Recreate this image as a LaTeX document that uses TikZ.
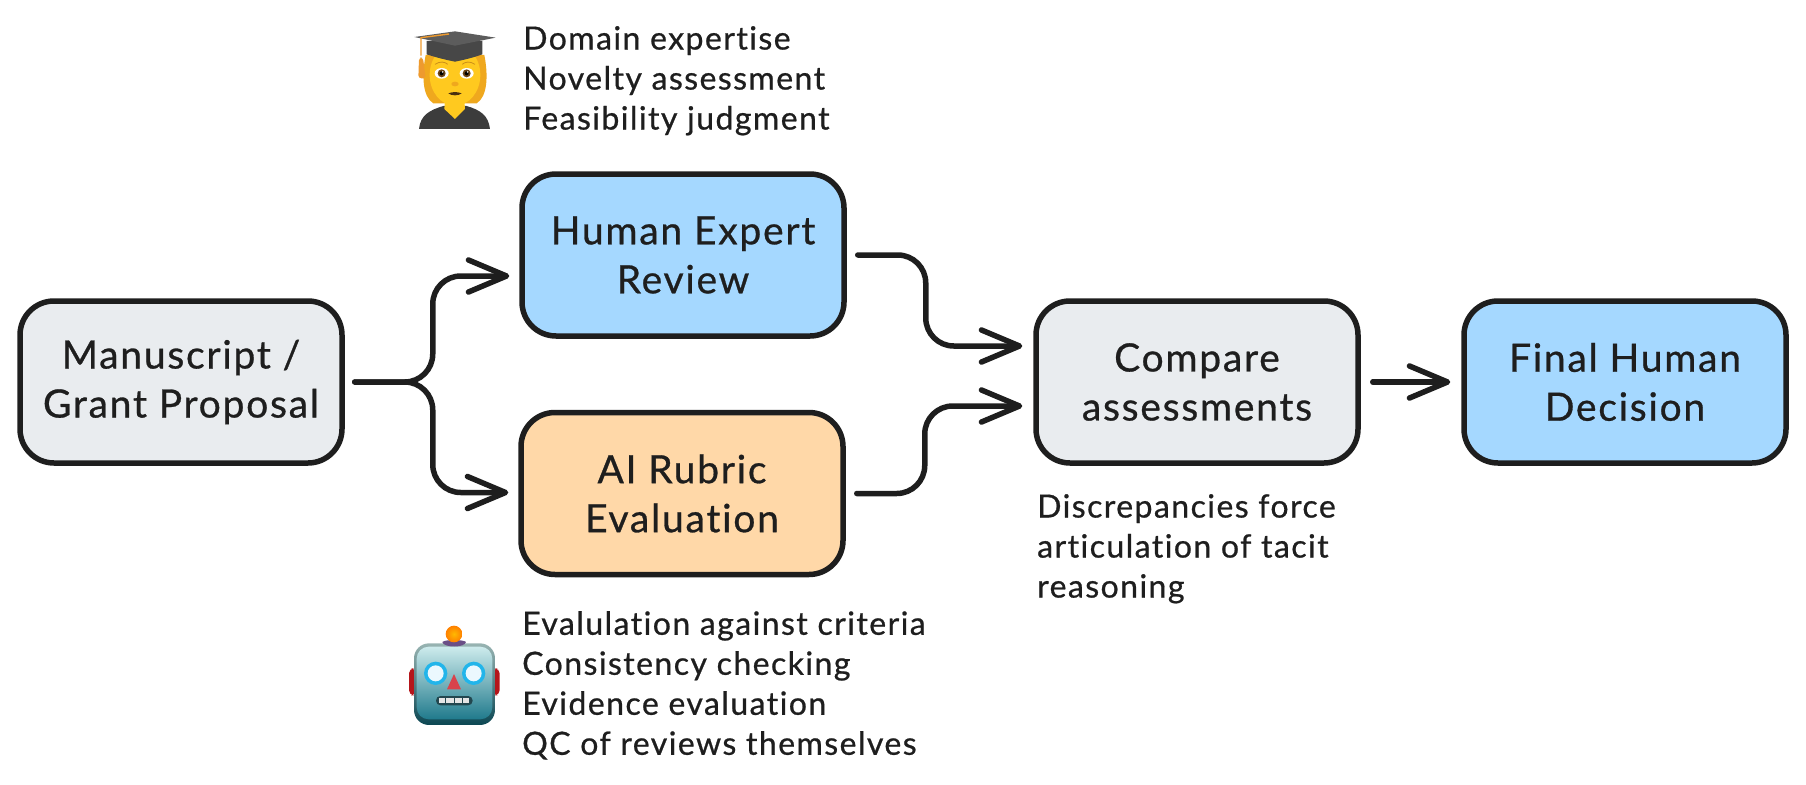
\documentclass[tikz,border=0pt]{standalone}
\usepackage{fontspec}
\setmainfont{Lato}
\newfontfamily\sketchfont[LetterSpace=4.5,FakeBold=0.7,Ligatures=NoCommon]{Lato}
\usetikzlibrary{arrows.meta,calc}
\definecolor{ink}{HTML}{1E1E1E}
\definecolor{greyfill}{HTML}{E9ECEF}
\definecolor{bluefill}{HTML}{A5D8FF}
\definecolor{orangefill}{HTML}{FFD8A8}
\definecolor{skin}{HTML}{FFC91F}
\definecolor{hair}{HTML}{EFA81E}
\definecolor{capdark}{HTML}{474747}
\definecolor{captop}{HTML}{5C5C5C}
\definecolor{gown}{HTML}{3C3C3C}
\definecolor{tassel}{HTML}{EE9A2E}
\definecolor{iris}{HTML}{6B4416}
\definecolor{robotA}{HTML}{CDEBEC}
\definecolor{robotB}{HTML}{9CC3C7}
\definecolor{robotC}{HTML}{207A8C}
\definecolor{robotEdgeA}{HTML}{98B4B2}
\definecolor{robotEdgeB}{HTML}{0C4753}
\definecolor{robotEar}{HTML}{B5161B}
\definecolor{robotRing}{HTML}{22B5EA}
\definecolor{robotNose}{HTML}{D8434C}
\definecolor{robotCap}{HTML}{6A4F86}
\definecolor{robotMouth}{HTML}{23474F}
\tikzset{
  flowbox/.style={draw=ink,line width=5.5pt,rounded corners=34pt,minimum width=322pt,minimum height=162pt,inner sep=0pt,align=center,text=ink,font=\sketchfont\fontsize{39}{49}\selectfont},
  note/.style={anchor=north west,inner sep=0pt,align=left,text=ink,font=\sketchfont\fontsize{32}{40}\selectfont},
  link/.style={draw=ink,line width=5.5pt,line cap=round,rounded corners=28pt,-{Straight Barb[length=38pt,width=32pt,round]}},
}
\begin{document}
\begin{tikzpicture}[x=1pt,y=-1pt]
\useasboundingbox (0,0) rectangle (1806,784);
\node[flowbox,fill=greyfill] (m) at (181,382) {Manuscript /\\Grant Proposal};
\node[flowbox,fill=bluefill] (h) at (683,255) {Human Expert\\Review};
\node[flowbox,fill=orangefill] (a) at (682,493.5) {AI Rubric\\Evaluation};
\node[flowbox,fill=greyfill] (c) at (1197,382) {Compare\\assessments};
\node[flowbox,fill=bluefill] (f) at (1625,382) {Final Human\\Decision};
\node[note] (n1) at (523,26) {Domain expertise\\Novelty assessment\\Feasibility judgment};
\node[note] (n2) at (522,611) {Evalulation against criteria\\Consistency checking\\Evidence evaluation\\QC of reviews themselves};
\node[note] (n3) at (1037,494) {Discrepancies force\\articulation of tacit\\reasoning};
% connectors
\draw[link] ($(m.east)+(10,0)$) -- ++(78,0) |- ($(h.west)+(-10,21)$);
\draw[link] ($(m.east)+(10,0)$) -- ++(78,0) |- ($(a.west)+(-10,-1)$);
\draw[link] ($(h.east)+(11,0)$) -- ++(68,0) |- ($(c.west)+(-11,-36)$);
\draw[link] ($(a.east)+(11,0)$) -- ++(68,0) |- ($(c.west)+(-11,24)$);
\draw[link] ($(c.east)+(12,0)$) -- ($(f.west)+(-11,0)$);
% graduate emoji
\begin{scope}[shift={(405,25)},x=0.3333pt,y=-0.3333pt]
  \fill[gown] (42,312) .. controls (46,270) and (75,255) .. (115,243) -- (185,243) .. controls (225,255) and (250,270) .. (255,312) -- cycle;
  \fill[hair] (62,90) .. controls (50,150) and (52,215) .. (85,235) -- (215,235) .. controls (248,215) and (250,150) .. (238,90) -- cycle;
  \fill[skin] (120,225) -- (178,225) -- (180,252) -- (150,282) -- (118,252) -- cycle;
  \fill[skin] (150,150) ellipse (76 and 92);
  \fill[capdark] (65,48) -- (65,88) .. controls (95,98) and (125,105) .. (150,110) .. controls (175,105) and (205,98) .. (232,88) -- (232,48) -- cycle;
  \fill[captop] (28,36) -- (150,19) -- (272,38) -- (150,62) -- cycle;
  \draw[tassel,line width=1.4pt] (132,27) -- (48,38) -- (48,92);
  \fill[tassel,rounded corners=3pt] (42,98) -- (54,98) -- (62,160) -- (40,160) -- cycle;
  \foreach \ex in {110,185}{
    \fill[white] (\ex,145) ellipse (21 and 16);
    \fill[iris] (\ex,145) circle (12);
    \fill[black] (\ex,145) circle (6);
    \fill[white] (\ex+3,141) circle (2.5);
  }
  \draw[hair!85!black,line width=0.8pt] (90,118) .. controls (105,108) and (120,110) .. (128,118);
  \draw[hair!85!black,line width=0.8pt] (172,118) .. controls (180,110) and (195,108) .. (210,118);
  \fill[hair] (150,177) ellipse (11 and 7);
  \fill[iris!70!black] (130,205) .. controls (145,200) and (155,200) .. (170,205) .. controls (160,213) and (140,213) .. (130,205) -- cycle;
\end{scope}
% robot emoji
\begin{scope}[shift={(400,620)},x=0.3333pt,y=-0.3333pt]
  \fill[robotEar,rounded corners=5pt] (27,145) rectangle (48,226);
  \fill[robotEar,rounded corners=5pt] (278,145) rectangle (299,226);
  \shade[top color=robotEdgeA,bottom color=robotEdgeB,rounded corners=15pt] (42,70) rectangle (285,315);
  \shade[top color=robotA,middle color=robotB,bottom color=robotC,rounded corners=12pt] (50,80) rectangle (277,298);
  \fill[robotCap] (127,66) .. controls (135,58) and (190,58) .. (198,66) .. controls (195,84) and (130,84) .. (127,66) -- cycle;
  \shade[inner color=orange!55!yellow,outer color=orange] (162,42) circle (25);
  \foreach \ex in {107,221}{
    \fill[robotRing] (\ex,160) circle (35);
    \fill[white!92!cyan] (\ex,160) circle (24);
  }
  \fill[robotNose] (162,162) -- (183,208) -- (141,208) -- cycle;
  \fill[robotMouth,rounded corners=4.5pt] (108,228) rectangle (218,256);
  \fill[white!90!black] (118,234) rectangle (208,250);
  \foreach \bx in {136,162,188}{\draw[robotMouth,line width=0.6pt] (\bx,234) -- (\bx,250);}
\end{scope}
\end{tikzpicture}
\end{document}
